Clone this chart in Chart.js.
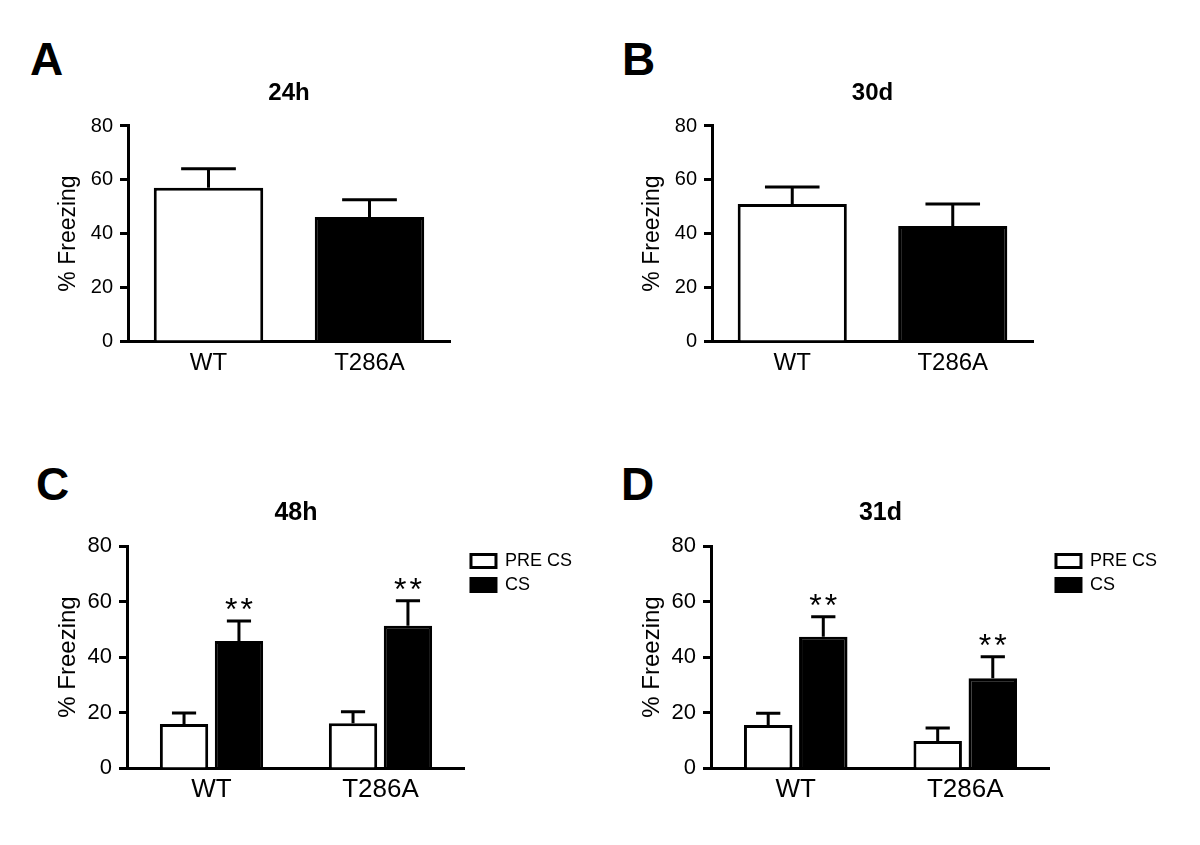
<!DOCTYPE html>
<html>
<head>
<meta charset="utf-8">
<script src="https://cdn.jsdelivr.net/npm/chart.js@4.4.0/dist/chart.umd.min.js"></script>
<style>
  body { margin: 0; background: #fff; width: 1200px; height: 845px; position: relative; overflow: hidden;
         font-family: "Liberation Sans", Arial, sans-serif; }
  canvas { position: absolute; }
  .letra { position: absolute; font-weight: bold; font-size: 46px; line-height: 46px; color: #000; }
</style>
</head>
<body>
<div class="letra" style="left:30px;top:36px">A</div>
<div class="letra" style="left:622px;top:36px">B</div>
<div class="letra" style="left:36px;top:461px">C</div>
<div class="letra" style="left:621px;top:461px">D</div>

<canvas id="grafA" width="600" height="420" style="left:0;top:0"></canvas>
<canvas id="grafB" width="600" height="420" style="left:600px;top:0"></canvas>
<canvas id="grafC" width="600" height="425" style="left:0;top:420px"></canvas>
<canvas id="grafD" width="600" height="425" style="left:600px;top:420px"></canvas>

<script>
// datos (% freezing, media y error)
const grupos = ['WT', 'T286A'];
const ticksY = [0, 20, 40, 60, 80];

const freezing24h = [57.0, 46.1];
const error24h = [7.1, 6.5];
const freezing30d = [51.0, 42.8];
const error30d = [6.3, 8.2];

const preCS48h = [15.9, 16.1];
const preCS48hError = [3.9, 4.2];
const cs48h = [45.8, 51.3];
const cs48hError = [7.2, 9.0];
const estrellas48h = ['**', '**'];

const preCS31d = [15.5, 9.7];
const preCS31dError = [4.2, 4.7];
const cs31d = [47.3, 32.3];
const cs31dError = [7.2, 7.8];
const estrellas31d = ['**', '**'];

Chart.defaults.font.family = '"Liberation Sans", Arial, sans-serif';
Chart.defaults.color = '#000';

// barras de error (solo hacia arriba) y asteriscos
const barrasError = {
  id: 'barrasError',
  afterDatasetsDraw(chart) {
    const ctx = chart.ctx;
    const escalaY = chart.scales.y;
    chart.data.datasets.forEach((ds, i) => {
      const meta = chart.getDatasetMeta(i);
      meta.data.forEach((barra, j) => {
        const tope = escalaY.getPixelForValue(ds.data[j] + ds.errores[j]);
        const medio = barra.width / 4;
        ctx.save();
        ctx.strokeStyle = '#000';
        ctx.lineWidth = 3;
        ctx.beginPath();
        ctx.moveTo(barra.x, barra.y);
        ctx.lineTo(barra.x, tope);
        ctx.moveTo(barra.x - medio, tope);
        ctx.lineTo(barra.x + medio, tope);
        ctx.stroke();
        if (ds.estrellas && ds.estrellas[j]) {
          ctx.fillStyle = '#000';
          ctx.font = '32px "Liberation Sans", Arial, sans-serif';
          ctx.letterSpacing = '3px';
          ctx.textAlign = 'center';
          ctx.textBaseline = 'alphabetic';
          ctx.fillText(ds.estrellas[j], barra.x + 1.5, tope - 1);
        }
        ctx.restore();
      });
    });
  }
};

function datasetBlanco(label, datos, errores) {
  return { label: label, data: datos, errores: errores, backgroundColor: '#fff',
           borderColor: '#000', borderWidth: 3 };
}
function datasetNegro(label, datos, errores, estrellas) {
  return { label: label, data: datos, errores: errores, estrellas: estrellas,
           backgroundColor: '#000', borderColor: '#000', borderWidth: 3 };
}

function crearPanel(id, titulo, datasets, conf) {
  return new Chart(document.getElementById(id), {
    type: 'bar',
    data: { labels: grupos, datasets: datasets },
    options: {
      responsive: false,
      animation: false,
      layout: { padding: conf.padding },
      datasets: { bar: { categoryPercentage: conf.cat, barPercentage: conf.bar } },
      plugins: {
        title: {
          display: true, text: titulo, fullSize: false, color: '#000',
          font: { size: conf.fTitulo, weight: 'bold' },
          padding: conf.padTitulo
        },
        legend: conf.leyenda ? {
          display: true, position: 'right', align: 'start', fullSize: false,
          labels: { boxWidth: 25, boxHeight: 13, padding: 6, color: '#000', font: { size: 18 } }
        } : { display: false },
        tooltip: { enabled: false }
      },
      scales: {
        x: {
          grid: { display: false, drawTicks: false },
          border: { display: true, color: '#000', width: 3 },
          ticks: { color: '#000', font: { size: conf.fX }, padding: conf.padX },
          afterFit: (eje) => { eje.height = 50; }
        },
        y: {
          min: 0, max: 80,
          afterBuildTicks: (eje) => { eje.ticks = ticksY.map(v => ({ value: v })); },
          grid: { drawOnChartArea: false, tickLength: 8, tickWidth: 3, tickColor: '#000' },
          border: { display: true, color: '#000', width: 3 },
          ticks: { color: '#000', font: { size: conf.fTicks }, padding: 7 },
          title: { display: true, text: '% Freezing', color: '#000', font: { size: conf.fEje },
                   padding: { top: 4, bottom: 4 } },
          afterFit: (eje) => { eje.width = 77; }
        }
      }
    },
    plugins: [barrasError]
  });
}

const confArriba = { cat: 1, bar: 0.68, fTitulo: 24, padTitulo: { top: 78.6, bottom: 18.6 },
                     fX: 24, padX: 8, fTicks: 20, fEje: 23, leyenda: false };
const confAbajo = { cat: 0.65, bar: 0.88, fTitulo: 25, padTitulo: { top: 78, bottom: 18 },
                    fX: 26, padX: 6, fTicks: 22, fEje: 24, leyenda: true };

crearPanel('grafA', '24h',
  [datasetNegro('24h', freezing24h, error24h)].map((d) => {
    d.backgroundColor = ['#fff', '#000'];
    return d;
  }),
  Object.assign({}, confArriba, { padding: { left: 51, right: 150, top: 0, bottom: 29 } }));

crearPanel('grafB', '30d',
  [datasetNegro('30d', freezing30d, error30d)].map((d) => {
    d.backgroundColor = ['#fff', '#000'];
    return d;
  }),
  Object.assign({}, confArriba, { padding: { left: 35, right: 167, top: 0, bottom: 29 } }));

crearPanel('grafC', '48h',
  [datasetBlanco('PRE CS', preCS48h, preCS48hError),
   datasetNegro('CS', cs48h, cs48hError, estrellas48h)],
  Object.assign({}, confAbajo, { padding: { left: 50, right: 18, top: 0, bottom: 27 } }));

crearPanel('grafD', '31d',
  [datasetBlanco('PRE CS', preCS31d, preCS31dError),
   datasetNegro('CS', cs31d, cs31dError, estrellas31d)],
  Object.assign({}, confAbajo, { padding: { left: 34, right: 33, top: 0, bottom: 27 } }));
</script>
</body>
</html>
